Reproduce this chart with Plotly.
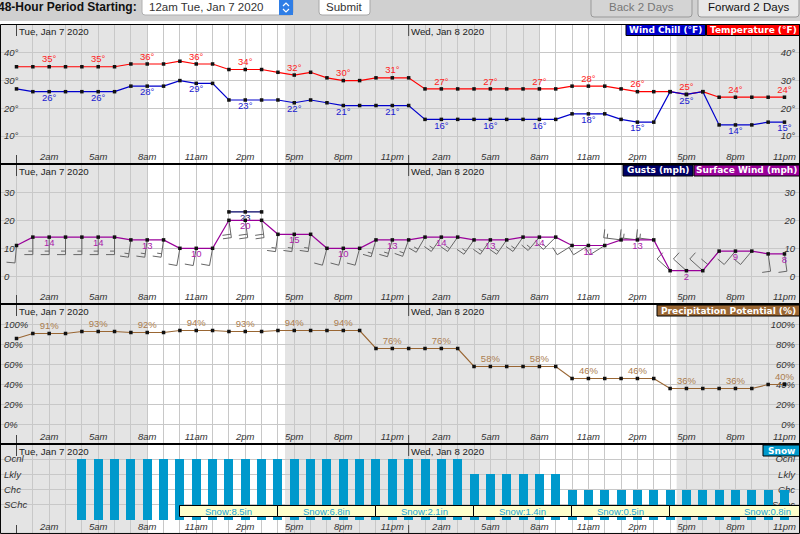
import math
import plotly.graph_objects as go

WIDTH = 800
HEIGHT = 534
PX_PER_HOUR = 16.34
X_RANGE = [-16.5 / PX_PER_HOUR, (WIDTH - 16.5) / PX_PER_HOUR]
FONT = "Liberation Sans"

# one value per hour, 12am Tue to 11pm Wed
hours = list(range(48))
temperature = [35, 35, 35, 35, 35, 35, 35, 36, 36, 36, 37, 36, 36, 34, 34, 34, 33, 32, 33, 31, 30, 30, 31, 31,
               31, 27, 27, 27, 27, 27, 27, 27, 27, 27, 28, 28, 28, 27, 26, 26, 26, 25, 26, 24, 24, 24, 24, 24]
wind_chill = [27, 26, 26, 26, 26, 26, 26, 28, 28, 28, 30, 29, 29, 23, 23, 23, 23, 22, 23, 22, 21, 21, 21, 21,
              21, 16, 16, 16, 16, 16, 16, 16, 16, 16, 18, 18, 18, 16, 15, 15, 26, 25, 26, 14, 14, 14, 15, 15]
surface_wind = [11, 14, 14, 14, 14, 14, 14, 13, 13, 13, 10, 10, 10, 20, 20, 20, 15, 15, 15, 10, 10, 10, 13, 13,
                13, 14, 14, 14, 13, 13, 13, 14, 14, 14, 11, 11, 11, 13, 13, 13, 2, 2, 2, 9, 9, 9, 8, 8]
wind_dir = [185, 180, 180, 180, 180, 180, 180, 188, 188, 188, 190, 190, 190, 172, 172, 172, 188, 188, 188, 195, 195, 195, 196, 196,
            200, 210, 215, 215, 215, 215, 215, 215, 220, 225, 238, 238, 238, 277, 277, 277, 312, 312, 312, 220, 220, 220, 172, 172]
gust_hours = [13, 14, 15]
gusts = [23, 23, 23]
gust_labels = ["", "23", ""]
precip = [86, 91, 91, 91, 93, 93, 93, 92, 92, 92, 94, 94, 94, 93, 93, 93, 94, 94, 94, 94, 94, 94, 76, 76,
          76, 76, 76, 76, 58, 58, 58, 58, 58, 58, 46, 46, 46, 46, 46, 46, 36, 36, 36, 36, 36, 36, 40, 40]
snow_hours = list(range(4, 48))
snow_chance = [4, 4, 4, 4, 4, 4, 4, 4, 4, 4, 4, 4, 4, 4, 4, 4, 4, 4, 4, 4, 4, 4, 4, 4,
               3, 3, 3, 3, 3, 3, 2, 2, 2, 2, 2, 2, 2, 2, 2, 2, 2, 2, 2, 2]
snow_mid = [13, 19, 25, 31, 37, 46]
snow_span = [6, 6, 6, 6, 6, 12]
snow_labels = ["Snow:8.5in", "Snow:6.8in", "Snow:2.1in", "Snow:1.4in", "Snow:0.5in", "Snow:0.8in"]

label_hours = list(range(2, 48, 3))
hour_labels = ["2am", "5am", "8am", "11am", "2pm", "5pm", "8pm", "11pm"] * 2
temp_ticks = [10, 20, 30, 40]
wind_ticks = [0, 10, 20, 30]
precip_ticks = [0, 20, 40, 60, 80, 100]
snow_ticks = [1, 2, 3, 4]
snow_ticktext = ["SChc", "Chc", "Lkly", "Ocnl"]
# night hours are the grey bands
shaded = [(-2, 8), (16.43, 32.04), (40.4, 50)]

GRID = "#c8c8c8"
SHADE = "#e4e4e4"
RED = "#ff0000"
BLUE = "#0000cc"
PURPLE = "#990099"
NAVY = "#000066"
BROWN = "#996633"
SNOW = "#0099cc"


def px(x, y):
    return x / WIDTH, 1 - y / HEIGHT


def ax(i):
    return "" if i == 1 else str(i)


def rounded(x0, y0, x1, y1, r):
    pts = [(x0 + r, y0), (x1 - r, y0), (x1, y0), (x1, y0 + r), (x1, y1 - r), (x1, y1), (x1 - r, y1),
           (x0 + r, y1), (x0, y1), (x0, y1 - r), (x0, y0 + r), (x0, y0), (x0 + r, y0)]
    p = [px(a, b) for a, b in pts]
    return ("M{} {} L{} {} Q{} {} {} {} L{} {} Q{} {} {} {} L{} {} Q{} {} {} {} L{} {} Q{} {} {} {} Z"
            .format(*[c for xy in p for c in xy]))


def labels_for(values, suffix):
    return [f"{v}{suffix}" if h in label_hours else "" for h, v in zip(hours, values)]


def barbs(speed, direction, per_unit):
    # wind barbs, shaft points to where the wind comes from
    xs, ys = [], []
    for h, s, d in zip(hours, speed, direction):
        a = math.radians(d)
        ux, uy = math.sin(a), -math.cos(a)     # screen px, y down
        bx, by = math.sin(a + math.pi / 2), -math.cos(a + math.pi / 2)
        n5 = max(2, round(s / 5))
        pts = []
        for i in range(n5 // 2):
            pts.append((17.5 - 3.5 * i, 8.5))
        if n5 % 2:
            pts.append((17.5 - 3.5 * (n5 // 2), 4.5))

        def to_data(x, y):
            return h + x / PX_PER_HOUR, s - y / per_unit
        x0, y0 = to_data(ux * 17.5, uy * 17.5)
        xs += [h, x0, None]
        ys += [s, y0, None]
        for along, size in pts:
            xa, ya = ux * along, uy * along
            x1, y1 = to_data(xa, ya)
            x2, y2 = to_data(xa + bx * size, ya + by * size)
            xs += [x1, x2, None]
            ys += [y1, y2, None]
    return xs, ys


# pixel box of each panel, pixel of a reference value and px per unit
panels = [
    dict(top=25, bottom=163, zero=163.7, scale=2.77, ticks=temp_ticks, text=[f"{t}°" for t in temp_ticks]),
    dict(top=165, bottom=303, zero=276.3, scale=2.8, ticks=wind_ticks, text=[str(t) for t in wind_ticks]),
    dict(top=305, bottom=443, zero=424.5, scale=1.0, ticks=precip_ticks, text=[f"{t}%" for t in precip_ticks]),
    dict(top=445, bottom=533, zero=520, scale=15.25, ticks=snow_ticks, text=snow_ticktext),
]

fig = go.Figure()
layout = dict(
    width=WIDTH, height=HEIGHT,
    margin=dict(l=0, r=0, t=0, b=0),
    paper_bgcolor="white", plot_bgcolor="white",
    showlegend=False, barmode="overlay", bargap=0,
    font=dict(family=FONT, size=10, color="#333333"),
)
shapes = []
annotations = []
tick_font = dict(family=FONT, size=9.5, color="#333333", style="italic")

for i, p in enumerate(panels, start=1):
    rng = [(p["zero"] - p["bottom"]) / p["scale"], (p["zero"] - p["top"]) / p["scale"]]
    dom = [1 - p["bottom"] / HEIGHT, 1 - p["top"] / HEIGHT]
    layout[f"xaxis{ax(i)}"] = dict(
        domain=[0, 1], range=X_RANGE, anchor=f"y{ax(i)}", tickmode="array", tickvals=label_hours, ticktext=hour_labels,
        showticklabels=False, ticks="", showgrid=True, gridcolor=GRID, gridwidth=1, zeroline=False,
        minor=dict(tick0=0, dtick=1, showgrid=True, gridcolor=GRID, gridwidth=1),
    )
    layout[f"yaxis{ax(i)}"] = dict(
        domain=dom, range=rng, anchor=f"x{ax(i)}", tickmode="array", tickvals=p["ticks"], ticktext=p["text"],
        ticklabelposition="inside", ticks="", showgrid=True, gridcolor=GRID, gridwidth=1, zeroline=False,
        tickfont=tick_font, ticklabelstandoff=1,
    )
    layout[f"yaxis{i + 4}"] = dict(
        domain=dom, range=rng, anchor=f"x{ax(i)}", overlaying=f"y{ax(i)}", side="right", tickmode="array",
        tickvals=p["ticks"], ticktext=p["text"], ticklabelposition="inside", ticks="", showgrid=False,
        zeroline=False, tickfont=tick_font, ticklabelstandoff=2, layer="below traces",
    )
    # hour labels sit inside the panel, 5px above its bottom edge
    label_y = (p["zero"] - (p["bottom"] - 5)) / p["scale"]
    fig.add_trace(go.Scatter(x=label_hours, y=[label_y] * len(label_hours), xaxis=f"x{ax(i)}", yaxis=f"y{ax(i)}",
                             mode="text", text=hour_labels, textposition="middle center", textfont=tick_font,
                             hoverinfo="skip"))
    for s0, s1 in shaded:
        shapes.append(dict(type="rect", xref=f"x{ax(i)}", yref=f"y{ax(i)} domain", x0=s0, x1=s1, y0=0, y1=1,
                           fillcolor=SHADE, line_width=0, layer="below"))
    for day, date in ((0, "Tue, Jan 7 2020"), (24, "Wed, Jan 8 2020")):
        annotations.append(dict(text=date, xref=f"x{ax(i)}", yref="paper", x=day, y=1 - (p["top"] + 6) / HEIGHT,
                                xanchor="left", yanchor="middle", xshift=0, showarrow=False,
                                font=dict(family=FONT, size=9.7, color="#222222")))
        for y0, y1 in ((p["top"], p["top"] + 11), (p["bottom"] - 8, p["bottom"])):
            shapes.append(dict(type="line", xref=f"x{ax(i)}", yref="paper", x0=day, x1=day, y0=1 - y0 / HEIGHT,
                               y1=1 - y1 / HEIGHT, line=dict(color="#444444", width=1)))

marker = dict(symbol="square", size=3.5, color="#111111")


def series(x, y, color, text, where, axis, text_color=None):
    # text floats a further 2px off the line
    gap = 2 / panels[axis - 1]["scale"]
    gap = gap if where.startswith("top") else -gap
    fig.add_trace(go.Scatter(
        x=x, y=y, mode="lines+markers", xaxis=f"x{ax(axis)}", yaxis=f"y{axis + 4}",
        line=dict(color=color, width=1.2), marker=marker,
    ))
    fig.add_trace(go.Scatter(
        x=x, y=[v + gap for v in y], mode="text", xaxis=f"x{ax(axis)}", yaxis=f"y{axis + 4}", text=text,
        textposition=where, textfont=dict(family=FONT, size=9.5, color=text_color or color),
    ))


series(hours, temperature, RED, labels_for(temperature, "°"), "top center", 1, "#ff2020")
series(hours, wind_chill, BLUE, labels_for(wind_chill, "°"), "bottom center", 1, "#2020d0")

bx, by = barbs(surface_wind, wind_dir, panels[1]["scale"])
fig.add_trace(go.Scatter(x=bx, y=by, mode="lines", xaxis="x2", yaxis="y6", line=dict(color="#666666", width=1)))
series(gust_hours, gusts, NAVY, gust_labels, "bottom center", 2, "#20207a")
series(hours, surface_wind, PURPLE, labels_for(surface_wind, ""), "bottom center", 2, "#aa22aa")

series(hours, precip, BROWN, labels_for(precip, "%"), "top center", 3, "#ab7d4f")

fig.add_trace(go.Bar(x=snow_hours, y=snow_chance, width=9 / PX_PER_HOUR, xaxis="x4", yaxis="y8",
                     marker=dict(color=SNOW, line_width=0)))
fig.add_trace(go.Bar(x=snow_mid, y=[0.684] * len(snow_mid), base=0.216, width=snow_span, xaxis="x4", yaxis="y8",
                     marker=dict(color="#ffffcc", line=dict(color="black", width=1)),
                     text=snow_labels, textposition="inside", insidetextanchor="middle", textangle=0,
                     constraintext="none", insidetextfont=dict(family=FONT, size=9.5, color="#1aa3d6")))

# panel frames
for y in (164, 304, 444):
    x0, yy = px(0, y)
    shapes.append(dict(type="line", xref="paper", yref="paper", x0=0, x1=1, y0=yy, y1=yy,
                       line=dict(color="black", width=2)))
shapes.append(dict(type="rect", xref="paper", yref="paper", x0=0.0006, x1=0.9994, y0=0.001, y1=px(0, 24.5)[1],
                   line=dict(color="black", width=1)))

# coloured legend boxes
legend_boxes = [
    (626, 705.5, 24.5, "Wind Chill (°F)", BLUE),
    (706.5, 799.5, 24.5, "Temperature (°F)", RED),
    (623, 693, 165, "Gusts (mph)", NAVY),
    (694, 799.5, 165, "Surface Wind (mph)", PURPLE),
    (657, 799.5, 305, "Precipitation Potential (%)", BROWN),
    (763, 799.5, 445, "Snow", SNOW),
]
for x0, x1, y0, name, color in legend_boxes:
    px0, py0 = px(x0, y0)
    px1, py1 = px(x1, y0 + 11)
    shapes.append(dict(type="rect", xref="paper", yref="paper", x0=px0, x1=px1, y0=py1, y1=py0,
                       fillcolor=color, line=dict(color="black", width=1), layer="above"))
    annotations.append(dict(text=f"<b>{name}</b>", xref="paper", yref="paper", x=(px0 + px1) / 2, y=(py0 + py1) / 2,
                            xanchor="center", yanchor="middle", showarrow=False,
                            font=dict(family="DejaVu Sans", size=9, color="white")))


# form strip on top of the charts
def box(x0, y0, x1, y1, **kw):
    a, b = px(x0, y0)
    c, d = px(x1, y1)
    shapes.append(dict(type="rect", xref="paper", yref="paper", x0=a, x1=c, y0=d, y1=b, **kw))


def button(x0, y0, x1, y1, fill, edge):
    shapes.append(dict(type="path", xref="paper", yref="paper", path=rounded(x0, y0, x1, y1, 3),
                       fillcolor=fill, line=dict(color=edge, width=1)))


def chevron(cx, y_tip, y_end):
    a = px(cx - 3, y_end)
    b = px(cx, y_tip)
    c = px(cx + 3, y_end)
    shapes.append(dict(type="path", xref="paper", yref="paper", line=dict(color="white", width=1.2),
                       path=f"M{a[0]} {a[1]} L{b[0]} {b[1]} L{c[0]} {c[1]}"))


def label(text, x, y, size, color="#111111", anchor="left"):
    a, b = px(x, y)
    annotations.append(dict(text=text, xref="paper", yref="paper", x=a, y=b, xanchor=anchor, yanchor="middle",
                            showarrow=False, font=dict(family=FONT, size=size, color=color)))


box(0, 0, 800, 21, fillcolor="#d0d0d0", line_width=0)
label("<b>48-Hour Period Starting:</b>", -4, 7, 12)
button(142, -3, 293, 15, "white", "#b0b0b0")
box(279, 0, 293, 15, fillcolor="#2f7ee6", line_width=0)
chevron(286, 3, 6)
chevron(286, 12, 9)
label("12am Tue, Jan 7 2020", 147, 7, 11.5, "#333333")
button(319, -3, 370, 15, "white", "#a8a8a8")
label("Submit", 344.5, 7, 11.5, "#333333", "center")
button(591, -3, 692, 17, "#d4d4d4", "#999999")
label("Back 2 Days", 641.5, 7, 11.5, "#777777", "center")
button(698, -3, 799, 17, "#e8e8e8", "#999999")
label("Forward 2 Days", 748.5, 7, 11.5, "#111111", "center")

fig.update_layout(shapes=shapes, annotations=annotations, **layout)
# the page's default body margin would push the chart off the window
fig.write_html("out.html", config=dict(displayModeBar=False),
               post_script="document.body.style.margin='0';window.dispatchEvent(new Event('resize'));")
